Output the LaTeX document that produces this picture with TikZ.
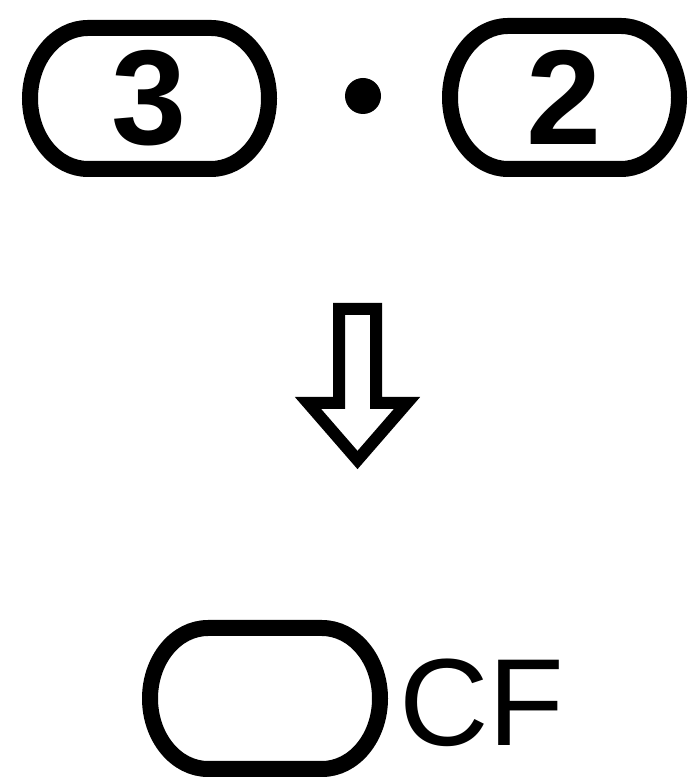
\documentclass[tikz,border=0pt]{standalone}
\usepackage{fontspec}
\setmainfont{Liberation Sans}
\usepackage{xcolor}
\usetikzlibrary{positioning}
\definecolor{ink}{HTML}{000000}
\tikzset{
  keycap/.style={minimum height=141pt,inner sep=0pt,outer sep=0pt,
                 font=\fontsize{135}{135}\selectfont\bfseries},
  keyline/.style={draw=ink,line width=16pt},
  keydot/.style={circle,fill=ink,minimum size=36pt,inner sep=0pt},
  keylabel/.style={inner sep=0pt,font=\fontsize{124}{124}\selectfont},
  blockarr/.style={draw=ink,line width=12pt,line join=miter}
}
\begin{document}
\begin{tikzpicture}[x=1pt,y=1pt]
  \useasboundingbox (0,0) rectangle (688,778);
  \node[keycap,minimum width=239pt] (three) at (149.5,679.5) {3};
  \node[keydot] (dot) at (363,682) {};
  \node[keycap,minimum width=229pt,minimum height=143pt] (two) at (564.5,680.5) {2};
  \node[keycap,minimum width=230pt] (cfkey) at (265,79.5) {};
  \node[keylabel,right=19pt of cfkey,yshift=-4pt] (cf) {CF};
  % oval key outlines
  \foreach \k/\r in {three/70.5,two/71.5,cfkey/70.5}
    \draw[keyline] ([xshift=58pt]\k.north west) -- ([xshift=-58pt]\k.north east)
      arc[start angle=90,end angle=-90,x radius=58,y radius=\r]
      -- ([xshift=58pt]\k.south west)
      arc[start angle=270,end angle=90,x radius=58,y radius=\r] -- cycle;
  % hollow arrow
  \draw[blockarr] (339,469) -- (376,469) -- (376,375) -- (407,375)
    -- (357.5,318) -- (308,375) -- (339,375) -- cycle;
\end{tikzpicture}
\end{document}
